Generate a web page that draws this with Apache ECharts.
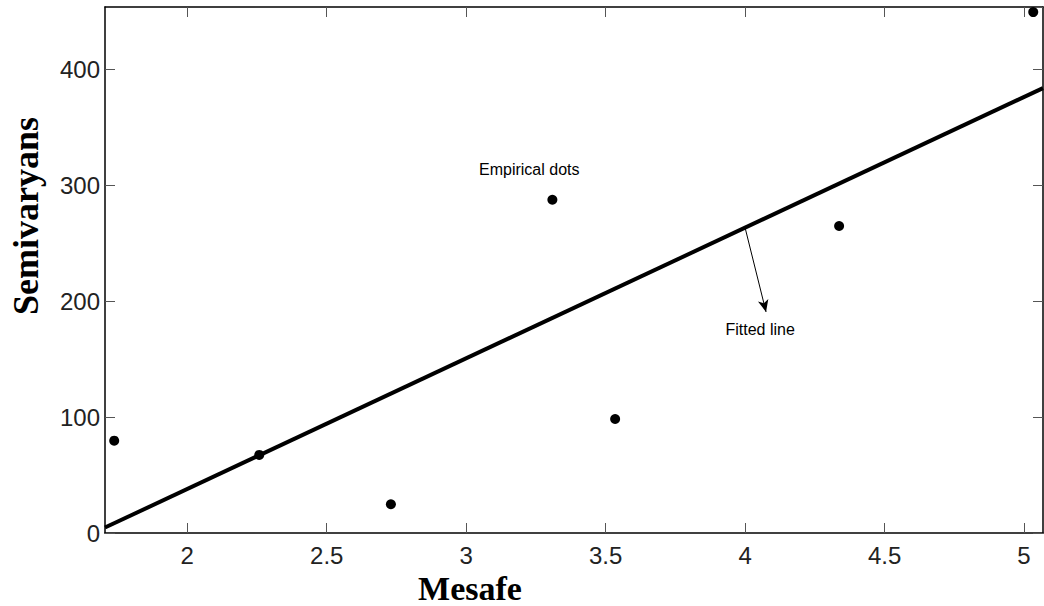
<!DOCTYPE html>
<html>
<head>
<meta charset="utf-8">
<script src="https://cdn.jsdelivr.net/npm/echarts@6/dist/echarts.min.js"></script>
<style>
html,body{margin:0;padding:0;background:#fff;}
#chart{width:1044px;height:606px;}
</style>
</head>
<body>
<div id="chart"></div>
<script>
// Data
const empiricalX = [1.738, 2.258, 2.730, 3.309, 3.534, 4.337, 5.033];
const empiricalY = [79.7, 67.4, 24.8, 287.6, 98.4, 265.0, 449.6];
const fittedX = [1.705, 5.068];
const fittedY = [4.7, 384.0];
const xTicks = [2, 2.5, 3, 3.5, 4, 4.5, 5];
const yTicks = [0, 100, 200, 300, 400];
const xRange = [1.705, 5.068];
const yRange = [0, 454];
const arrowFrom = [4.0, 263.4];
const arrowTo = [4.075, 190.8];
const labelEmpirical = {text: 'Empirical dots', at: [3.226, 313.5]};
const labelFitted = {text: 'Fitted line', at: [4.054, 176]};
const xTitle = 'Mesafe';
const yTitle = 'Semivaryans';

const chart = echarts.init(document.getElementById('chart'), null, {renderer: 'svg'});

const tickFont = {fontFamily: "'Liberation Sans Narrow', 'Liberation Sans', Arial, sans-serif", fontSize: 24, color: '#222'};
const titleFont = "'Liberation Serif', 'Times New Roman', serif";

function boxAxis(base) {
  return Object.assign({
    type: 'value',
    splitLine: {show: false},
    axisLine: {show: true, onZero: false, lineStyle: {color: '#000', width: 1.5}},
    axisTick: {show: true, inside: true, length: 10, lineStyle: {color: '#555', width: 1}},
  }, base);
}

const option = {
  backgroundColor: '#fff',
  animation: false,
  grid: {left: 105, right: 1, top: 7, bottom: 73, containLabel: false},
  xAxis: [
    boxAxis({
      position: 'bottom', min: xRange[0], max: xRange[1],
      axisTick: {show: true, inside: true, length: 10, customValues: xTicks, lineStyle: {color: '#555', width: 1}},
      axisLabel: Object.assign({show: true, customValues: xTicks, margin: 10}, tickFont)
    }),
    boxAxis({
      position: 'top', min: xRange[0], max: xRange[1],
      axisTick: {show: true, inside: true, length: 10, customValues: xTicks, lineStyle: {color: '#555', width: 1}},
      axisLabel: {show: false}
    })
  ],
  yAxis: [
    boxAxis({
      position: 'left', min: yRange[0], max: yRange[1], interval: 100,
      axisLabel: Object.assign({show: true, margin: 5, showMaxLabel: false}, tickFont)
    }),
    boxAxis({
      position: 'right', min: yRange[0], max: yRange[1], interval: 100,
      axisLabel: {show: false}
    })
  ],
  graphic: [
    {type: 'text', x: 26, y: 216, rotation: Math.PI / 2,
     style: {text: yTitle, font: 'bold 36px ' + titleFont, fill: '#000', align: 'center', verticalAlign: 'middle'}},
    {type: 'text', x: 470, y: 588,
     style: {text: xTitle, font: 'bold 34px ' + titleFont, fill: '#000', align: 'center', verticalAlign: 'middle'}}
  ],
  series: [
    {
      type: 'line', xAxisIndex: 0, yAxisIndex: 0,
      data: fittedX.map((x, i) => [x, fittedY[i]]),
      showSymbol: false, symbol: 'none',
      lineStyle: {color: '#000', width: 4},
      markLine: {
        silent: true, symbol: ['none', 'arrow'], symbolSize: [8, 12],
        label: {show: false},
        lineStyle: {color: '#000', width: 1, type: 'solid'},
        data: [[{coord: arrowFrom}, {coord: arrowTo}]]
      },
      markPoint: {
        symbol: 'circle', symbolSize: 0,
        label: {show: true, position: 'inside', fontFamily: "'Liberation Sans', Arial, sans-serif", fontSize: 16, color: '#000'},
        data: [
          {coord: labelEmpirical.at, value: labelEmpirical.text, label: {formatter: labelEmpirical.text}},
          {coord: labelFitted.at, value: labelFitted.text, label: {formatter: labelFitted.text}}
        ]
      }
    },
    {
      type: 'scatter', xAxisIndex: 0, yAxisIndex: 0,
      data: empiricalX.map((x, i) => [x, empiricalY[i]]),
      symbol: 'circle', symbolSize: 10,
      itemStyle: {color: '#000', opacity: 1}
    }
  ]
};
chart.setOption(option);
</script>
</body>
</html>
